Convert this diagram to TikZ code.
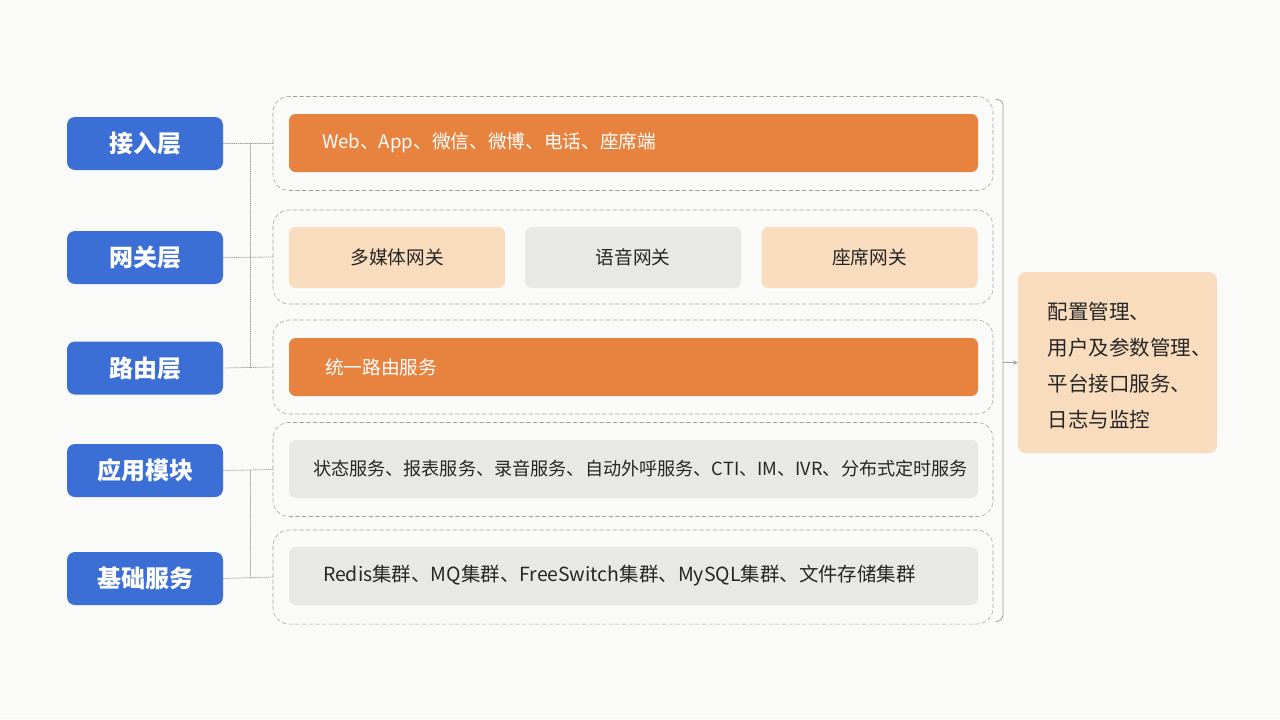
\documentclass[tikz,border=0pt]{standalone}
\usepackage{fontspec}
\setmainfont{Noto Sans CJK SC}
\definecolor{layerblue}{HTML}{3B6FD5}
\definecolor{barorange}{HTML}{E8823F}
\definecolor{peach}{HTML}{F9DCBD}
\definecolor{bargray}{HTML}{E8E8E7}
\definecolor{linegray}{HTML}{A0A0A0}
\definecolor{paper}{HTML}{FAFAF8}
\begin{document}
\begin{tikzpicture}[x=0.75pt,y=-0.75pt,line cap=round,line join=round,>=stealth,
  layer/.style={fill=layerblue,rounded corners=6pt,minimum width=117pt,minimum height=39.75pt,
    text=white,font=\fontsize{18}{20}\selectfont\bfseries},
  group/.style={draw=linegray,dash pattern=on 3pt off 2pt,rounded corners=12pt,minimum width=540pt,minimum height=70.5pt},
  bar/.style={rounded corners=5pt,minimum height=43.5pt,inner xsep=#1,align=left,
    font=\fontsize{14}{16}\selectfont},
  gate/.style={rounded corners=5pt,minimum width=162pt,minimum height=45.75pt,
    text=black!85,font=\fontsize{14}{16}\selectfont},
  link/.style={linegray,densely dotted,line width=0.6pt}]
\fill[paper] (0,0) rectangle (1280,719);
\node[layer] (access) at (145,143.5) {接入层};
\node[layer] (gateway) at (145,257.5) {网关层};
\node[layer] (route) at (145,368) {路由层};
\node[layer] (app) at (145,470.5) {应用模块};
\node[layer] (base) at (145,578.5) {基础服务};
\node[group] (g1) at (633,143.5) {};
\node[group] (g2) at (633,257) {};
\node[group] (g3) at (633,367) {};
\node[group] (g4) at (633,469.5) {};
\node[group] (g5) at (633,577) {};
\node[bar=24.75pt,fill=barorange,text=white,text width=467.25pt] (access bar) at (633.5,143) {Web、App、微信、微博、电话、座席端};
\node[gate,fill=peach] (media gw) at (397,257.5) {多媒体网关};
\node[gate,fill=bargray] (voice gw) at (633,257.5) {语音网关};
\node[gate,fill=peach] (seat gw) at (869.5,257.5) {座席网关};
\node[bar=27pt,fill=barorange,text=white,text width=462.75pt] (route bar) at (633.5,367) {统一路由服务};
\node[bar=18pt,fill=bargray,text=black!85,text width=480.75pt,font=\fontsize{13.6}{16}\selectfont] (app bar) at (633.5,469) {状态服务、报表服务、录音服务、自动外呼服务、CTI、IM、IVR、分布式定时服务};
\node[bar=25.5pt,fill=bargray,text=black!85,text width=465.75pt,font=\fontsize{14.6}{16}\selectfont] (base bar) at (633.5,576) {Redis集群、MQ集群、FreeSwitch集群、MySQL集群、文件存储集群};
\node[fill=peach,rounded corners=6pt,minimum width=149.25pt,minimum height=135.75pt,inner xsep=0pt,
  text width=105pt,align=left,text=black!85,font=\fontsize{15.4}{27}\selectfont] (manage) at (1117.5,362.5)
  {\rule{0pt}{18pt}配置管理、\\用户及参数管理、\\平台接口服务、\\日志与监控};
\coordinate (trunk) at (250,0);
\foreach \l/\g in {access/g1,gateway/g2,route/g3,app/g4,base/g5}
  \draw[link] (\l.east) -- (\g.west);
\draw[link] (access.east -| trunk) -- (route.east -| trunk);
\draw[link] (app.east -| trunk) -- (base.east -| trunk);
\draw[linegray,line width=0.6pt] (996,99) .. controls (1003,101) .. (1003,110) -- (1003,610) .. controls (1003,619) .. (996,622);
\coordinate (brace) at (1003,362.5);
\draw[->,linegray,line width=0.5pt] (brace) -- (manage.west);
\end{tikzpicture}
\end{document}
